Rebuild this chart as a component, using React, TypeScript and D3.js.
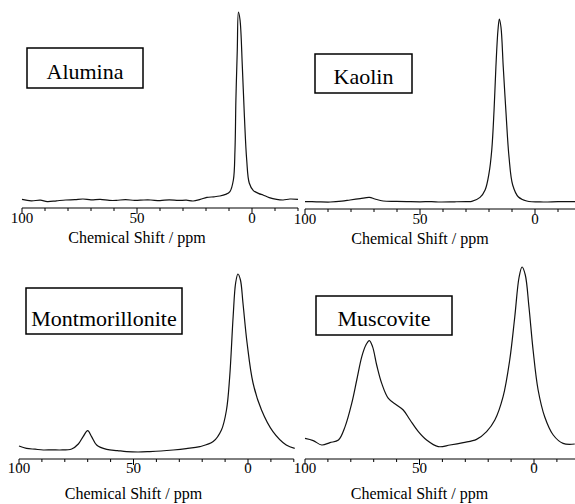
import React from 'react';
import * as d3 from 'd3';

// [ppm, relative intensity]
const alumina: [number, number][] = [
  [100, 4.3], [96, 3.6], [92, 3.9], [89, 3.2], [85, 3.6], [81, 4.0], [77, 4.2], [73.5, 4.5],
  [70, 4.1], [66, 4.3], [62, 3.8], [59, 3.8], [55, 4.2], [51, 3.8], [47, 4.0], [44, 4.0],
  [40, 3.7], [36, 4.1], [32, 3.8], [28.5, 3.9], [25.6, 3.5], [22.5, 4.3], [19.6, 5.3],
  [16.5, 5.6], [14, 6.0], [11.5, 6.8], [9.6, 8.2], [8.1, 14], [7.4, 29], [7, 54], [6.4, 79],
  [5.9, 98], [5.2, 94], [4.2, 70.7], [3.3, 45.7], [2.3, 24], [1.2, 12.5], [-0.6, 8.7],
  [-3, 7.2], [-4.8, 6.5], [-7.5, 5.2], [-10.7, 4.3], [-13.5, 4.0], [-16.5, 4.5], [-20, 4.3],
];

const kaolin: [number, number][] = [
  [100, 3.7], [95, 3.6], [89, 3.5], [84, 3.9], [80.4, 4.5], [76, 5.2], [72, 5.8], [69.6, 5.0],
  [66, 4.0], [61, 3.8], [55.8, 3.7], [50, 3.6], [45, 3.7], [41.3, 3.5], [35, 3.6], [30, 3.7],
  [27.5, 3.8], [23.9, 5.8], [21.7, 9.5], [20, 17.8], [18.8, 29.5], [17.8, 49.5], [17, 71],
  [16.1, 89.5], [15.5, 95], [14.8, 91], [13.8, 71], [12.6, 48], [11.3, 26], [9.7, 12],
  [7.2, 6.0], [3.6, 4.0], [-3.6, 3.5], [-10, 3.7], [-17.4, 3.7],
];

const montmorillonite: [number, number][] = [
  [100, 6.5], [96.7, 5.3], [93, 4.9], [89.4, 4.5], [85.5, 4.6], [82.1, 4.5], [77, 5.0],
  [74.1, 7.5], [72, 11.2], [70, 14.2], [68.3, 11.2], [66.1, 7.0], [61.7, 4.8], [57, 4.2],
  [53, 3.7], [48, 3.5], [42.9, 3.7], [38, 4.0], [32.7, 4.5], [27, 5.2], [21, 6.2],
  [15.2, 8.7], [11.6, 14.5], [9.4, 24.5], [8, 41], [6.5, 71], [5.4, 88], [4.4, 92.5],
  [3.3, 89.5], [2.2, 78], [0.4, 58], [-2.2, 38], [-5.9, 24.5], [-10.9, 13.7],
  [-16.7, 7.0], [-20.4, 5.3],
];

const muscovite: [number, number][] = [
  [100, 10.3], [96.4, 9.2], [92.7, 7.0], [89.1, 8.2], [85.4, 9.5], [82.5, 16.2],
  [79.6, 27.8], [77.4, 39.5], [75.2, 51.2], [73.4, 57], [71.9, 59.2], [70.5, 56.2],
  [68.7, 47], [66.5, 37.8], [63.6, 30.3], [60, 27], [57.1, 24.5], [54.1, 19.5],
  [50.5, 13.7], [46.9, 9.5], [41.8, 6.2], [36.7, 7.0], [30.9, 8.2], [25.1, 9.8],
  [20.7, 13.7], [17.1, 19.5], [13.5, 31.2], [10.6, 49.5], [8.4, 71], [6.5, 91],
  [5.2, 96], [3.8, 92], [2.2, 76], [0.4, 54.5], [-1.8, 34.5], [-4.7, 21], [-8.4, 12],
  [-12.7, 7.8], [-17.8, 7.5],
];

const majorTicks = [100, 50, 0];
const minorTicks = [90, 80, 70, 60, 40, 30, 20, 10, -10, -20];
const axisTitle = 'Chemical Shift / ppm';

const panels = [
  { name: 'Alumina', data: alumina, x100: 22, x0: 252, axisY: 208, tickY: 223, titleY: 243,
    box: { x: 27, y: 48, w: 116, h: 40, ty: 79 } },
  { name: 'Kaolin', data: kaolin, x100: 305, x0: 535, axisY: 209, tickY: 224, titleY: 244,
    box: { x: 315, y: 54, w: 97, h: 39, ty: 84 } },
  { name: 'Montmorillonite', data: montmorillonite, x100: 19, x0: 248, axisY: 459, tickY: 473, titleY: 499,
    box: { x: 26, y: 288, w: 156, h: 46, ty: 326 } },
  { name: 'Muscovite', data: muscovite, x100: 305, x0: 534, axisY: 459, tickY: 473, titleY: 499,
    box: { x: 316, y: 296, w: 136, h: 39, ty: 326 } },
];

const serif = { fontFamily: 'Liberation Serif' };

const Panel: React.FC<{ p: (typeof panels)[number] }> = ({ p }) => {
  const x = d3.scaleLinear().domain([100, 0]).range([p.x100, p.x0]);
  const y = d3.scaleLinear().domain([0, 100]).range([p.axisY, p.axisY - 200]);
  const line = d3
    .line<[number, number]>()
    .x((d) => x(d[0]))
    .y((d) => y(d[1]))
    .curve(d3.curveCatmullRom.alpha(0.5));
  const x1 = x(-20);
  return (
    <g>
      <path d={line(p.data) || ''} fill="none" stroke="#111" strokeWidth={1.2} />
      <line x1={x(100)} x2={x1} y1={p.axisY} y2={p.axisY} stroke="#000" strokeWidth={1} />
      {majorTicks.map((t) => (
        <g key={'M' + t}>
          <line x1={x(t)} x2={x(t)} y1={p.axisY} y2={p.axisY + 6} stroke="#000" />
          <text x={x(t)} y={p.tickY} textAnchor="middle" style={serif} fontSize={15}>
            {t}
          </text>
        </g>
      ))}
      {minorTicks.map((t) => (
        <line key={'m' + t} x1={x(t)} x2={x(t)} y1={p.axisY} y2={p.axisY + 3} stroke="#000" />
      ))}
      <text x={x(50)} y={p.titleY} textAnchor="middle" style={serif} fontSize={16}>
        {axisTitle}
      </text>
      <rect x={p.box.x} y={p.box.y} width={p.box.w} height={p.box.h} fill="#fff" stroke="#000" strokeWidth={1.5} />
      <text x={p.box.x + p.box.w / 2} y={p.box.ty} textAnchor="middle" style={serif} fontSize={22}>
        {p.name}
      </text>
    </g>
  );
};

export default function App() {
  return (
    <svg
      width={575}
      height={504}
      style={{ position: 'absolute', left: 0, top: 0, background: '#fff' }}
    >
      <rect width={575} height={504} fill="#fff" />
      {panels.map((p) => (
        <Panel key={p.name} p={p} />
      ))}
    </svg>
  );
}
